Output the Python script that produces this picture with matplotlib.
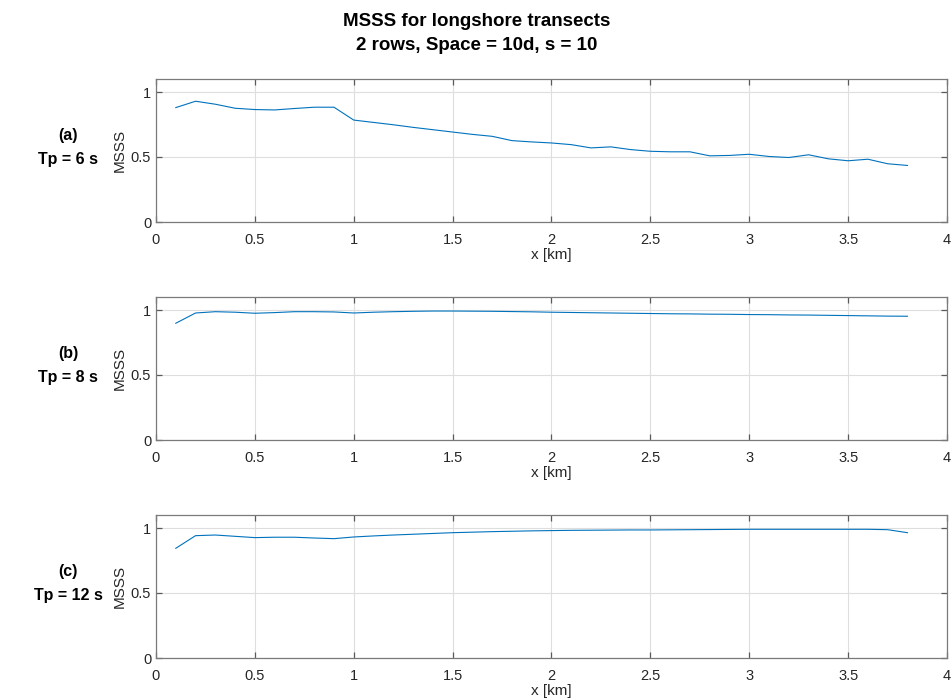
import matplotlib
matplotlib.use("Agg")
import matplotlib.pyplot as plt
import numpy as np

plt.rcParams['font.family'] = ['Liberation Sans', 'DejaVu Sans']

x_km = [0.1, 0.2, 0.3, 0.4, 0.5, 0.6, 0.7, 0.8, 0.9, 1.0,
        1.1, 1.2, 1.3, 1.4, 1.5, 1.6, 1.7, 1.8, 1.9, 2.0,
        2.1, 2.2, 2.3, 2.4, 2.5, 2.6, 2.7, 2.8, 2.9, 3.0,
        3.1, 3.2, 3.3, 3.4, 3.5, 3.6, 3.7, 3.8]

msss_tp6 = [0.880, 0.929, 0.906, 0.875, 0.865, 0.862, 0.873, 0.883, 0.883, 0.784,
            0.766, 0.748, 0.728, 0.710, 0.692, 0.674, 0.659, 0.626, 0.616, 0.608,
            0.595, 0.570, 0.578, 0.557, 0.544, 0.540, 0.540, 0.509, 0.512, 0.521,
            0.504, 0.496, 0.517, 0.486, 0.471, 0.483, 0.448, 0.435]

msss_tp8 = [0.898, 0.977, 0.987, 0.983, 0.975, 0.980, 0.987, 0.987, 0.985, 0.977,
            0.983, 0.987, 0.990, 0.992, 0.992, 0.991, 0.990, 0.988, 0.986, 0.983,
            0.981, 0.979, 0.977, 0.975, 0.973, 0.971, 0.970, 0.968, 0.967, 0.965,
            0.964, 0.962, 0.961, 0.959, 0.957, 0.955, 0.953, 0.952]

msss_tp12 = [0.844, 0.941, 0.946, 0.936, 0.926, 0.929, 0.929, 0.923, 0.918, 0.931,
             0.939, 0.946, 0.952, 0.958, 0.964, 0.968, 0.972, 0.975, 0.978, 0.980,
             0.982, 0.983, 0.984, 0.985, 0.985, 0.986, 0.987, 0.988, 0.989, 0.990,
             0.990, 0.990, 0.990, 0.990, 0.990, 0.990, 0.987, 0.964]

panel_labels = ["(a)\nTp = 6 s", "(b)\nTp = 8 s", "(c)\nTp = 12 s"]
series = [msss_tp6, msss_tp8, msss_tp12]
xticks = [0, 0.5, 1, 1.5, 2, 2.5, 3, 3.5, 4]
xticklabels = ["0", "0.5", "1", "1.5", "2", "2.5", "3", "3.5", "4"]
yticks = [0, 0.5, 1]
yticklabels = ["0", "0.5", "1"]

W, H = 953, 699
fig = plt.figure(figsize=(W / 100, H / 100), dpi=100)

left = 156 / W
width = (947 - 156) / W
tops = [79, 297, 515]
bottoms = [222, 440, 658]

fig.text(0.5, 1 - 22 / H, "MSSS for longshore transects", ha='center', va='center',
         fontsize=13.5, fontweight='bold')
fig.text(0.5, 1 - 45 / H, "2 rows, Space = 10d, s = 10", ha='center', va='center',
         fontsize=13.5, fontweight='bold')

for i in range(3):
    b = 1 - bottoms[i] / H
    h = (bottoms[i] - tops[i]) / H
    ax = fig.add_axes([left, b, width, h])
    ax.plot(x_km, series[i], color='#0072BD', linewidth=0.8)
    ax.set_xlim(0, 4)
    ax.set_ylim(0, 1.1)
    ax.set_xticks(xticks)
    ax.set_xticklabels(xticklabels)
    ax.set_yticks(yticks)
    ax.set_yticklabels(yticklabels)
    ax.grid(True, color='#dedede', linewidth=0.8)
    ax.set_axisbelow(True)
    for s in ax.spines.values():
        s.set_color('#7a7a7a')
        s.set_linewidth(0.9)
    ax.tick_params(direction='in', length=4, width=0.9, color='#5a5a5a',
                   top=True, right=True, labelsize=10.5, labelcolor='#262626')
    ax.tick_params(axis='x', pad=8)
    ax.tick_params(axis='y', pad=3.5)
    ax.set_xlabel("x [km]", fontsize=11, color='#262626', labelpad=1)
    ax.set_ylabel("MSSS", fontsize=11, color='#262626', labelpad=3)
    yc = 1 - ((tops[i] + bottoms[i]) / 2 - 3) / H
    fig.text(68 / W, yc, panel_labels[i], ha='center', va='center',
             fontsize=11.5, fontweight='bold', linespacing=1.7)

fig.savefig("out.png", dpi=100)
